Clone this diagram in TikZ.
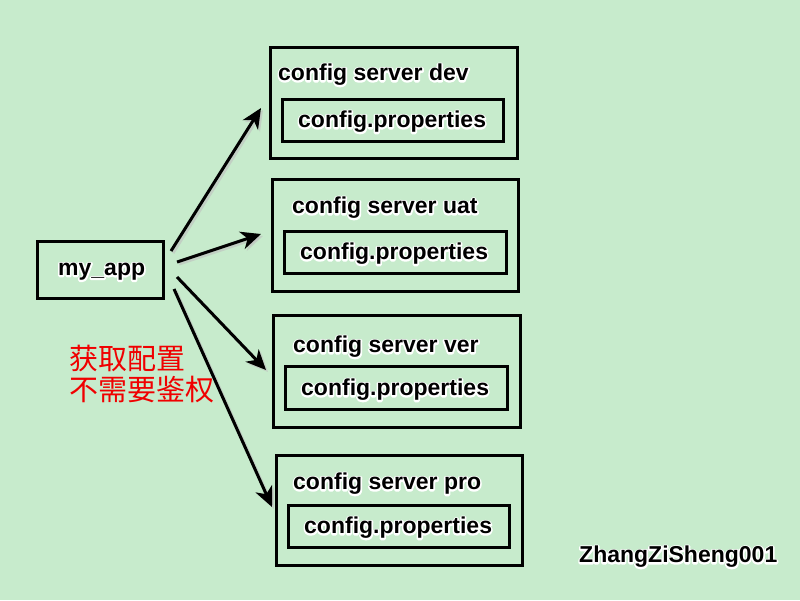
\documentclass[tikz,border=0pt]{standalone}
\usepackage{fontspec}
\setmainfont{Liberation Sans}
\newfontfamily\cjk{Noto Sans CJK SC}
\usetikzlibrary{arrows.meta,shadows}
\definecolor{bg}{RGB}{199,235,204}
\definecolor{cnred}{RGB}{240,0,0}
\tikzset{
  boxframe/.style={draw=black, fill=bg, line width=3pt, inner sep=0pt,
    drop shadow={shadow xshift=2pt, shadow yshift=-2pt, fill=black, opacity=0.25}},
  lbl/.style={inner sep=0pt, anchor=west, font=\fontsize{23}{26}\selectfont\bfseries},
  conn/.style={line width=3pt, -{Stealth[length=20pt,width=18pt,inset=6pt]}}
}
\newcommand{\hl}[1]{\leavevmode\rlap{\special{pdf:literal direct 1 Tr 3.2 w 1 j 1 1 1 RG}#1\special{pdf:literal direct 0 Tr}}#1}
\begin{document}
\begin{tikzpicture}[x=1pt,y=-1pt]
\fill[bg] (0,0) rectangle (800,600);
\useasboundingbox (0,0) rectangle (800,600);

% boxes
\path[boxframe] (270,47) rectangle (517,158);
\path[boxframe] (282,99) rectangle (503,141);
\path[boxframe] (272,179) rectangle (518,291);
\path[boxframe] (284,231) rectangle (506,273);
\path[boxframe] (273,315) rectangle (520,427);
\path[boxframe] (285,366) rectangle (507,409);
\path[boxframe] (276,455) rectangle (522,565);
\path[boxframe] (288,505) rectangle (509,547);
\path[boxframe] (37,241) rectangle (163,298);

% labels
\node[lbl] (devt) at (278,75) {\hl{config server dev}};
\node[lbl] (devp) at (298,122) {\hl{config.properties}};
\node[lbl] (uatt) at (292,208) {\hl{config server uat}};
\node[lbl] (uatp) at (300,254) {\hl{config.properties}};
\node[lbl] (vert) at (293,347) {\hl{config server ver}};
\node[lbl] (verp) at (301,390) {\hl{config.properties}};
\node[lbl] (prot) at (293,484) {\hl{config server pro}};
\node[lbl] (prop) at (304,528) {\hl{config.properties}};
\node[lbl] (app) at (58,272) {\hl{my\_app}};
\node[lbl] (author) at (579,557) {\hl{ZhangZiSheng001}};
\node[inner sep=0pt, anchor=north west, align=left, text=cnred,
      font=\cjk\fontsize{29}{31}\selectfont] (note) at (69,345) {获取配置\\不需要鉴权};

% arrow end points
\coordinate (s1) at (171,251); \coordinate (t1) at (261,108);
\coordinate (s2) at (177,262); \coordinate (t2) at (261,234);
\coordinate (s3) at (177,277); \coordinate (t3) at (266,370);
\coordinate (s4) at (174,289); \coordinate (t4) at (272,507);

\draw[conn, black!25, opacity=0.6] ([shift={(2,2)}]s1) -- ([shift={(2,2)}]t1);
\draw[conn, black!25, opacity=0.6] ([shift={(2,2)}]s2) -- ([shift={(2,2)}]t2);
\draw[conn, black!25, opacity=0.6] ([shift={(2,2)}]s3) -- ([shift={(2,2)}]t3);
\draw[conn, black!25, opacity=0.6] ([shift={(2,2)}]s4) -- ([shift={(2,2)}]t4);
\draw[conn] (s1) -- (t1);
\draw[conn] (s2) -- (t2);
\draw[conn] (s3) -- (t3);
\draw[conn] (s4) -- (t4);
\end{tikzpicture}
\end{document}
